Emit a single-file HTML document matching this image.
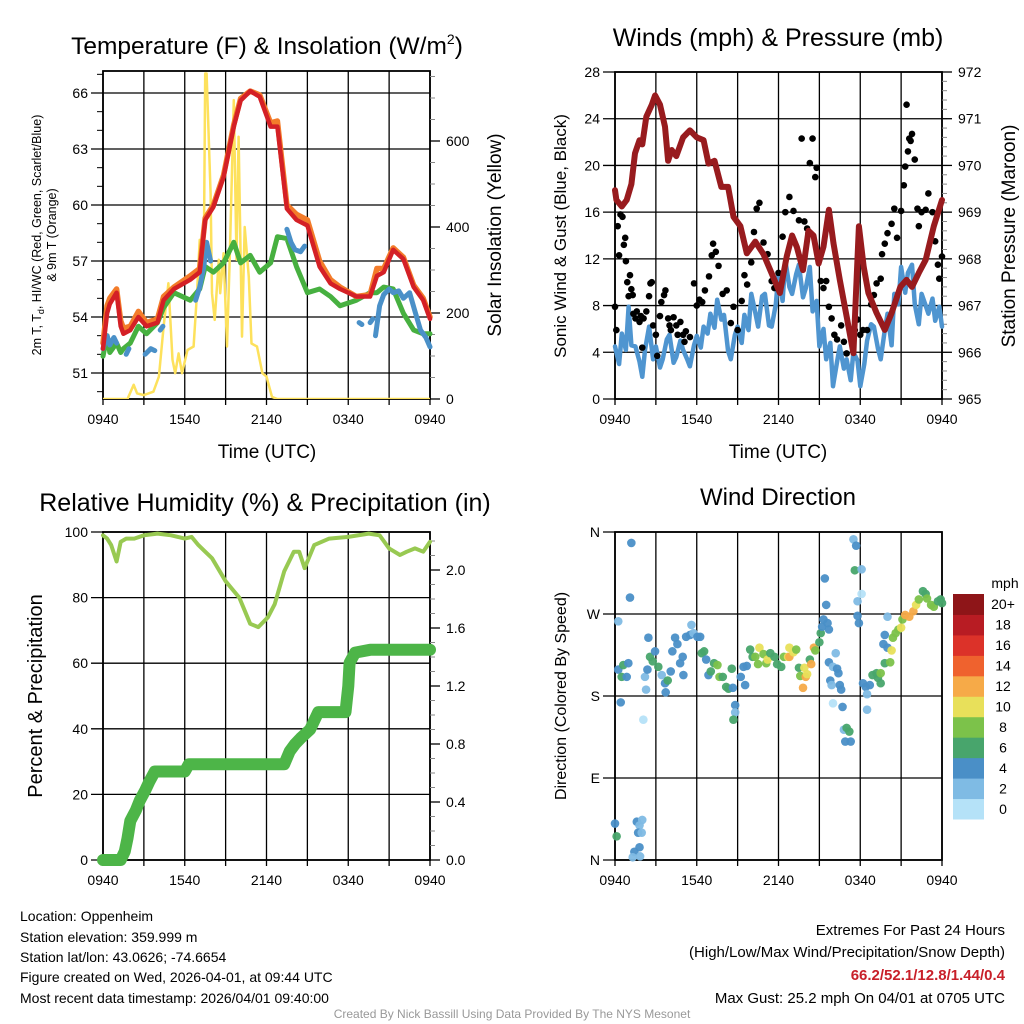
<!DOCTYPE html>
<html><head><meta charset="utf-8">
<style>
html,body{margin:0;padding:0;background:#fff;}
svg{display:block;font-family:"Liberation Sans",Arial,sans-serif;}
</style></head>
<body>
<svg id="c" width="1024" height="1024" viewBox="0 0 1024 1024" xmlns="http://www.w3.org/2000/svg">
<text x="267" y="54" font-size="24.5" text-anchor="middle">Temperature (F) &amp; Insolation (W/m<tspan font-size="14" dy="-10">2</tspan><tspan dy="10">)</tspan></text>
<text x="778" y="46" font-size="25" text-anchor="middle">Winds (mph) &amp; Pressure (mb)</text>
<text x="265" y="511" font-size="25" text-anchor="middle">Relative Humidity (%) &amp; Precipitation (in)</text>
<text x="778" y="505" font-size="24" text-anchor="middle">Wind Direction</text>

<text transform="translate(41,235) rotate(-90)" font-size="12.5" text-anchor="middle">2m T, T<tspan font-size="9" dy="3">d</tspan><tspan dy="-3">, HI/WC (Red, Green, Scarlet/Blue)</tspan></text>
<text transform="translate(56,235) rotate(-90)" font-size="12.5" text-anchor="middle">&amp; 9m T (Orange)</text>
<text transform="translate(501,235) rotate(-90)" font-size="19" text-anchor="middle">Solar Insolation (Yellow)</text>
<text transform="translate(566,236) rotate(-90)" font-size="17" text-anchor="middle">Sonic Wind &amp; Gust (Blue, Black)</text>
<text transform="translate(1015,236) rotate(-90)" font-size="19" text-anchor="middle">Station Pressure (Maroon)</text>
<text transform="translate(42,696) rotate(-90)" font-size="20" text-anchor="middle">Percent &amp; Precipitation</text>
<text transform="translate(566,696) rotate(-90)" font-size="16" text-anchor="middle">Direction (Colored By Speed)</text>
<text x="267" y="458" font-size="19" text-anchor="middle">Time (UTC)</text>
<text x="778" y="458" font-size="19" text-anchor="middle">Time (UTC)</text>

<g font-size="14">
<text x="20" y="921">Location: Oppenheim</text>
<text x="20" y="942">Station elevation: 359.999 m</text>
<text x="20" y="962">Station lat/lon: 43.0626; -74.6654</text>
<text x="20" y="982">Figure created on Wed, 2026-04-01, at 09:44 UTC</text>
<text x="20" y="1003">Most recent data timestamp: 2026/04/01 09:40:00</text>
</g>
<g font-size="15" text-anchor="end">
<text x="1005" y="935">Extremes For Past 24 Hours</text>
<text x="1005" y="957">(High/Low/Max Wind/Precipitation/Snow Depth)</text>
<text x="1005" y="980" fill="#c8202a" font-weight="bold">66.2/52.1/12.8/1.44/0.4</text>
<text x="1005" y="1003">Max Gust: 25.2 mph On 04/01 at 0705 UTC</text>
</g>
<text x="512" y="1018" font-size="12" fill="#999" text-anchor="middle">Created By Nick Bassill Using Data Provided By The NYS Mesonet</text>
</svg>
<script>
// ---------- data ----------
const timeTickLabels = ["0940","1540","2140","0340","0940"];
const tHours   = [0,0.3,0.5,1,1.3,1.5,2,2.6,3.2,4,4.45,5.2,6.4,7.1,7.5,8.1,8.85,9.6,10.1,10.8,11.5,12.3,12.8,13.5,14.2,15,15.9,16.7,17.4,18.6,19.6,20.1,20.6,21.3,22.05,22.8,23.5,24];
const tempRed  = [52.3,54.2,54.7,55.3,53.5,53.1,53.3,54.0,53.5,53.7,54.9,55.5,56.0,56.4,59.2,59.9,61.5,64.2,65.6,66.1,65.8,64.2,64.2,59.8,59.2,58.9,56.7,55.8,55.5,55.1,55.1,56.2,56.4,57.6,57.1,55.6,54.9,53.9];
const temp9m   = [52.6,54.6,55.0,55.5,53.8,53.4,53.5,54.3,53.7,53.9,55.1,55.6,56.2,56.6,59.3,60.0,61.6,64.3,65.7,66.1,65.9,64.4,64.5,60.0,59.5,59.2,57.0,56.0,55.6,55.1,55.2,56.6,56.6,57.7,57.2,55.7,55.0,54.0];
const dewGreen = [51.9,53.0,52.1,52.6,52.1,52.3,52.6,53.5,53.1,53.7,54.5,55.3,54.9,55.5,56.7,56.4,56.9,58.0,56.9,57.3,56.4,56.9,58.3,58.2,56.7,55.3,55.5,55.1,54.6,54.9,55.3,55.3,55.6,55.5,54.2,53.3,53.1,53.1];
const hiHours  = [0,0.3,0.5,0.8,1.0,null,1.7,1.9,null,3.1,3.5,3.8,null,4.2,4.4,null,6.8,7.1,7.4,7.6,7.9,null,13.5,13.8,14.1,14.5,14.8,null,18.8,19.0,null,19.6,19.8,null,20.0,20.3,20.6,21.0,21.3,21.7,22.05,22.5,22.9,23.3,23.7,24];
const hiVals   = [52.3,53.0,52.5,52.9,52.6,null,52.0,52.3,null,52.0,52.3,52.2,null,53.3,53.5,null,54.9,55.6,56.7,58.0,57.0,null,58.7,58.0,57.6,57.5,57.8,null,53.7,53.6,null,53.7,53.9,null,53.0,54.6,55.2,55.5,55.3,55.4,55.0,55.3,54.3,53.3,52.9,52.4];
const solarHours = [0,1.8,2.25,2.5,3,3.7,4.1,4.45,4.8,5.1,5.3,5.55,5.8,6.2,6.65,6.9,7.1,7.4,7.5,7.6,7.9,8,8.2,8.5,8.6,8.85,9.1,9.3,9.6,9.8,9.95,10.2,10.4,10.7,10.9,11.3,11.7,12,12.4,12.8,24];
const solarVals  = [0,0,33,13,9,17,52,168,269,91,60,106,60,114,122,246,370,324,757,757,478,246,184,324,246,339,122,324,695,324,610,145,400,284,129,122,60,52,5,0,0];
const wHours = [0,0.3,0.5,0.8,1,1.2,1.5,1.8,2,2.2,2.5,2.8,3,3.3,3.5,3.8,4,4.3,4.5,4.8,5,5.3,5.5,5.8,6,6.3,6.5,6.8,7,7.3,7.5,7.8,8,8.3,8.5,8.8,9,9.3,9.5,9.8,10,10.3,10.5,10.8,11,11.3,11.5,11.8,12,12.3,12.5,12.8,13,13.3,13.5,13.8,14,14.3,14.5,14.8,15,15.3,15.5,15.8,16,16.3,16.5,16.8,17,17.3,17.5,17.8,18,18.3,18.5,18.8,19,19.3,19.5,19.8,20,20.3,20.5,20.8,21,21.3,21.5,21.8,22,22.3,22.5,22.8,23,23.3,23.5,23.8,24];
const windVals = [4.5,3.0,5.6,4.2,7.9,4.6,4.5,3.2,1.9,4.2,6.2,3.4,4.5,2.7,3.4,5.1,5.5,3.1,3.6,5.0,4.2,3.4,2.8,4.6,5.4,4.4,6.2,5.6,7.3,6.1,8.5,6.8,7.2,4.1,3.4,5.5,6.2,4.8,7.2,5.9,9.0,7.4,6.2,8.8,9.0,6.3,6.2,8.1,10.8,8.4,11.9,9.6,9.0,10.7,11.5,8.7,9.5,11.3,7.5,8.4,4.5,6.0,3.4,4.8,1.1,3.2,4.5,2.6,3.4,1.6,4.0,3.3,1.1,3.0,5.0,6.4,6.2,4.3,3.4,5.9,7.3,4.6,9.0,8.1,11.3,9.1,10.8,11.5,8.1,6.4,9.0,8.0,7.3,8.6,6.7,7.9,6.2];
const gustHours = [0,0.1,0.2,0.3,0.4,0.55,0.65,0.75,0.8,0.9,1,1.1,1.2,1.3,1.35,1.5,1.6,1.8,1.9,2.0,2.1,2.3,2.5,2.6,2.7,2.8,3.0,3.1,3.3,3.4,3.6,3.7,3.9,4.0,4.1,4.3,4.5,4.6,4.8,5.0,5.1,5.2,5.5,5.8,6.0,6.2,6.4,6.6,6.9,7.1,7.2,7.4,7.6,7.9,8.2,8.5,8.7,9.0,9.3,9.5,9.7,10.0,10.2,10.4,10.6,10.9,11.2,11.5,11.7,12.0,12.3,12.5,12.8,13.1,13.5,13.7,13.9,14.1,14.2,14.3,14.5,14.7,14.8,15.1,15.3,15.5,15.7,15.9,16.1,16.3,16.6,16.8,17.0,17.3,17.6,17.8,18.0,18.2,18.5,18.8,19.0,19.2,19.5,19.6,19.8,20.0,20.3,20.5,20.7,21.0,21.2,21.3,21.4,21.5,21.6,21.7,21.8,22.0,22.2,22.3,22.5,22.8,23.0,23.3,23.5,23.7,23.8,24];
const gustVals  = [7.9,5.9,14.8,12.3,15.8,15.6,13.2,13.8,11.8,10.0,8.8,10.6,9.4,8.9,7.3,6.9,7.5,6.6,7.1,4.4,6.9,7.5,8.8,9.9,10.0,6.3,5.5,3.7,7.1,8.3,8.9,9.3,6.9,6.3,5.9,7.0,6.3,5.5,6.6,5.5,4.9,5.8,5.3,9.9,8.0,8.5,8.3,9.3,10.5,12.3,13.3,12.6,11.4,9.0,9.3,6.5,7.9,5.9,8.4,10.6,9.8,11.7,14.3,16.3,16.8,13.4,12.4,10.1,9.5,10.8,13.9,16.0,17.3,16.1,15.3,22.3,15.2,14.6,14.2,20.2,22.3,19.0,19.8,10.1,9.5,10.1,7.9,6.9,5.5,5.1,6.3,4.9,3.9,5.5,5.9,6.8,5.5,5.9,5.9,8.1,8.9,9.9,10.3,12.4,13.3,14.2,15.0,16.3,13.8,16.1,18.3,19.9,25.2,21.2,22.3,22.1,22.7,20.5,16.3,14.8,16.0,16.2,17.6,16.0,13.5,11.5,10.3,12.2];
const presHours = [0,0.1,0.5,0.86,1.2,1.47,1.8,2.0,2.3,2.7,2.94,3.3,3.67,3.9,4.16,4.5,5,5.5,6,6.5,6.86,7.3,7.8,8.3,8.7,9.2,9.67,10.3,10.9,11.6,12.1,12.6,13,13.35,13.8,14.2,14.57,14.94,15.3,15.7,16.04,16.5,17,17.5,17.9,18.25,18.6,19.2,19.8,20.3,20.94,21.4,21.8,22.3,22.8,23.4,24];
const presVals  = [969.47,969.26,969.12,969.26,969.6,970.26,970.54,970.45,971.04,971.3,971.5,971.3,970.83,970.1,970.33,970.2,970.6,970.75,970.6,970.54,970.04,970.1,969.54,969.54,968.9,968.7,968.12,968.37,968.1,967.62,967.27,968.05,968.5,968.25,967.76,968.6,968.5,967.9,968.26,969.05,968.33,967.55,966.77,965.98,968.7,967.83,967.27,966.84,966.48,966.84,967.4,967.55,967.4,967.7,967.98,968.7,969.26];
const rhHours = [0,0.3,0.6,1,1.3,1.7,2.3,3,4,5,6,6.5,7,7.5,8,9,10,10.8,11.4,12.1,12.6,13.3,14,14.4,14.8,15.5,16.6,18,19.5,20.3,21,21.8,22.3,22.9,23.5,24];
const rhVals  = [99,98,96,91,97,98,98,99,99.5,99,98,98.5,96,94,92,85,80,72,71,74,78,88,94,94,89,96,98,98.5,99.5,99,95,93,94,95,94,97];
const precipHours = [0,1.3,1.6,1.8,2.0,2.4,2.7,3.1,3.4,3.8,6.0,6.3,13.3,13.7,14.1,14.5,15.2,15.8,17.8,18.0,18.1,18.5,19.6,24];
const precipVals  = [0,0,0.06,0.15,0.27,0.34,0.41,0.48,0.54,0.61,0.61,0.66,0.66,0.75,0.8,0.84,0.9,1.02,1.02,1.2,1.36,1.43,1.45,1.45];
const dirHours = [0.24,0.24,0.61,0.49,0.98,0.86,0.42,1.2,1.1,2.08,2.2,2.28,2.45,2.38,2.57,2.77,2.94,3.18,3.43,3.67,3.72,3.87,4.09,4.21,4.41,4.58,4.78,4.97,5.02,5.22,5.51,5.61,5.76,6.05,6.25,6.37,6.54,6.69,6.86,7.03,7.27,7.52,7.67,7.91,8.16,8.33,8.57,8.65,8.82,8.82,8.69,9.23,9.43,9.55,9.67,9.92,10.1,10.3,10.5,10.6,10.9,11.1,11.2,11.4,11.7,11.9,12.2,12.4,12.7,12.8,12.8,13.1,13.3,13.5,13.6,13.8,13.9,14.0,14.1,14.3,14.4,14.6,14.7,15.0,15.1,15.2,15.3,15.4,15.5,15.6,15.7,15.7,16.0,16.2,16.3,16.4,15.8,15.9,16.5,16.6,16.0,16.7,16.8,17.0,17.2,16.9,17.3,17.6,17.5,17.7,17.8,18.1,18.1,17.8,17.9,18.2,18.4,18.5,18.5,18.7,18.9,19.2,19.3,19.5,19.5,19.7,19.8,19.8,20.0,20.0,20.2,20.3,20.4,20.6,20.8,21.0,21.1,21.3,21.6,21.9,22.1,22.3,22.6,22.8,22.9,23.2,23.4,23.7,23.9,24.0,0,0.12,1.6,1.8,2.0,1.7,1.96,1.8,1.42,1.3,1.84];
const dirDegrees = [262,209,214,201,216,201,173,348,288,154,201,187,244,209,223,218,229,212,203,194,184,197,207,229,244,237,216,223,203,245,247,258,249,245,245,227,229,220,203,207,216,214,201,201,190,188,210,189,170,162,154,201,212,192,213,231,223,223,215,233,226,216,220,227,223,215,212,223,223,233,223,228,231,211,202,189,211,201,204,220,215,233,230,239,249,256,264,309,280,260,253,217,212,227,210,205,197,192,192,187,172,168,143,145,141,130,130,318,352,345,284,319,292,268,260,194,190,182,165,192,203,205,200,194,205,237,247,216,267,233,217,230,244,249,253,255,264,269,267,273,280,286,295,292,287,280,278,284,286,282,40,26,42,38,44,30,30,14,9,3,4];
const dirSpeeds = [2,4,6,6,4,4,4,4,4,0,2,2,4,4,6,6,4,6,2,4,4,6,4,4,4,4,4,4,4,4,4,2,2,4,4,6,6,4,4,6,6,8,8,6,6,6,6,4,4,2,6,4,4,4,4,6,6,8,8,10,8,8,10,6,6,6,6,8,10,10,12,10,8,6,8,12,10,12,10,6,12,12,8,6,6,4,4,4,4,4,4,4,2,2,4,4,4,2,4,4,0,4,2,6,6,4,4,6,2,4,2,2,0,4,4,4,4,2,2,4,6,6,6,6,8,4,4,6,2,4,8,10,8,8,8,10,8,12,12,12,10,8,6,6,8,8,8,6,6,6,4,6,4,2,2,4,2,4,4,2,2];
const speedBinLabels = ["0","2","4","6","8","10","12","14","16","18","20+"];
const speedBinColors = ["#b5e2f8","#7fbbe4","#4a8fc7","#48a56c","#7cc24a","#e8e05a","#f6aa48","#ef622e","#dc3229","#b81c23","#8e1518"];

// ---------- drawing ----------
const svg = document.getElementById('c');
const NS = 'http://www.w3.org/2000/svg';
function mk(tag, attrs, parent){ const e=document.createElementNS(NS,tag); for(const k in attrs) e.setAttribute(k,attrs[k]); (parent||svg).appendChild(e); return e; }
function lin(d0,d1,r0,r1){ return v => r0 + (v-d0)/(d1-d0)*(r1-r0); }

const P1={l:103,r:430,t:71,b:399}, P2={l:615,r:942,t:72,b:399}, P3={l:103,r:430,t:532,b:860}, P4={l:615,r:942,t:532,b:860};

function frame(P,name,yTicks,yScale,yFmt){
  const g=mk('g',{});
  
  
  const xs=lin(0,24,P.l,P.r);
  for(let h=0;h<=24;h+=3){
    mk('line',{x1:xs(h),x2:xs(h),y1:P.t,y2:P.b+6,stroke:'#000','stroke-width':1.3},g);
  }
  timeTickLabels.forEach((lab,i)=>{
    const t=mk('text',{x:xs(i*6),y:P.b+25,'font-size':14,'text-anchor':'middle'},g);
    t.textContent=lab;
  });
  yTicks.forEach(v=>{
    const y=yScale(v);
    mk('line',{x1:P.l-12,x2:P.r,y1:y,y2:y,stroke:'#000','stroke-width':1.3},g);
    const t=mk('text',{x:P.l-15,y:y+5,'font-size':14,'text-anchor':'end'},g);
    t.textContent=yFmt(v);
  });
  mk('rect',{x:P.l,y:P.t,width:P.r-P.l,height:P.b-P.t,fill:'none',stroke:'#000','stroke-width':1.8},g);
  return xs;
}
function rightAxis(P,name,ticks,scale,fmt,minorStep,lo,hi){
  const g=mk('g',{});
  
  
  for(let v=lo; v<=hi+1e-9; v+=minorStep){ const y=scale(v); mk('line',{x1:P.r,x2:P.r+5,y1:y,y2:y,stroke:'#888','stroke-width':1},g); }
  ticks.forEach(v=>{ const y=scale(v);
    mk('line',{x1:P.r,x2:P.r+10,y1:y,y2:y,stroke:'#000','stroke-width':1.3},g);
    const t=mk('text',{x:P.r+16,y:y+5,'font-size':14},g); t.textContent=fmt(v); });
}
function path(xs,ys,hs,vs,attrs,name){
  let d='',pen=false;
  for(let i=0;i<hs.length;i++){
    if(hs[i]===null||vs[i]===null){pen=false;continue;}
    d+=(pen?'L':'M')+xs(hs[i]).toFixed(1)+','+ys(vs[i]).toFixed(1); pen=true;
  }
  const p=mk('path',Object.assign({d:d,fill:'none','stroke-linejoin':'round','stroke-linecap':'round'},attrs));
  
  
  return p;
}

// Panel 1
const y1=lin(51,66,373,93);
const x1=frame(P1,'temperature',[51,54,57,60,63,66],y1,v=>v);
{const g=mk('g',{}); for(let v=50;v<=67;v++){ const y=y1(v); if(y<P1.t||y>P1.b) continue; mk('line',{x1:P1.l-6,x2:P1.l,y1:y,y2:y,stroke:'#000','stroke-width':1},g);} }
const s1=lin(0,600,399,141);
rightAxis(P1,'solar-right-axis',[0,200,400,600],s1,v=>v,50,0,750);
const clip1=mk('clipPath',{id:'clip1'}); mk('rect',{x:P1.l,y:P1.t,width:P1.r-P1.l,height:P1.b-P1.t},clip1);
path(x1,s1,solarHours,solarVals,{stroke:'#fde15c','stroke-width':2.5,'clip-path':'url(#clip1)'},'solar-insolation-line');
path(x1,y1,tHours,dewGreen,{stroke:'#47b040','stroke-width':5},'dewpoint-line');
path(x1,y1,hiHours,hiVals,{stroke:'#4a90c8','stroke-width':5},'heat-index-wind-chill-line');
path(x1,y1,tHours,temp9m,{stroke:'#f37c2a','stroke-width':5.5},'temperature-9m-line');
path(x1,y1,tHours,tempRed,{stroke:'#d42026','stroke-width':4.5},'temperature-2m-line');

// Panel 2
const y2=lin(0,28,399,72);
const x2=frame(P2,'winds',[0,4,8,12,16,20,24,28],y2,v=>v);
const p2=lin(965,972,399,72);
rightAxis(P2,'pressure-right-axis',[965,966,967,968,969,970,971,972],p2,v=>v,0.2,965,972);
path(x2,y2,wHours,windVals,{stroke:'#4f95d0','stroke-width':4.5},'sonic-wind-line');
gustHours.forEach((h,i)=>{
  const c=mk('circle',{cx:x2(h),cy:y2(gustVals[i]),r:3.3,fill:'#000'});
  
  
});
path(x2,p2,presHours,presVals,{stroke:'#981b1e','stroke-width':6},'station-pressure-line');

// Panel 3
const y3=lin(0,100,860,532);
const x3=frame(P3,'humidity',[0,20,40,60,80,100],y3,v=>v);
const r3=lin(0,2.0,860,570);
rightAxis(P3,'precip-right-axis',[0,0.4,0.8,1.2,1.6,2.0],r3,v=>v.toFixed(1),0.1,0,2.2);
path(x3,y3,rhHours,rhVals,{stroke:'#98c952','stroke-width':4},'relative-humidity-line');
path(x3,r3,precipHours,precipVals,{stroke:'#4db548','stroke-width':12},'precipitation-line');

// Panel 4
const y4=lin(0,360,860,532);
const dirLabels=['N','E','S','W','N'];
const x4=frame(P4,'wind-direction',[0,90,180,270,360],y4,v=>dirLabels[v/90]);
dirHours.forEach((h,i)=>{
  const c=mk('circle',{cx:x4(h),cy:y4(dirDegrees[i]),r:4.3,fill:speedBinColors[Math.min(10,dirSpeeds[i]/2)],'fill-opacity':0.95});
  
  
});
// colorbar
{const g=mk('g',{});
 
 
 const cbTop=594, cbBot=819, bh=(cbBot-cbTop)/speedBinColors.length;
 speedBinColors.forEach((col,i)=>{
   const y=cbBot-(i+1)*bh;
   mk('rect',{x:953,y:y,width:31,height:bh+0.5,fill:col},g);
   const t=mk('text',{x:1003,y:y+bh/2+5,'font-size':14,'text-anchor':'middle'},g);
   t.textContent=speedBinLabels[i];
 });
 const t=mk('text',{x:1005,y:588,'font-size':14,'text-anchor':'middle'},g); t.textContent='mph';
}
</script>
</body></html>
